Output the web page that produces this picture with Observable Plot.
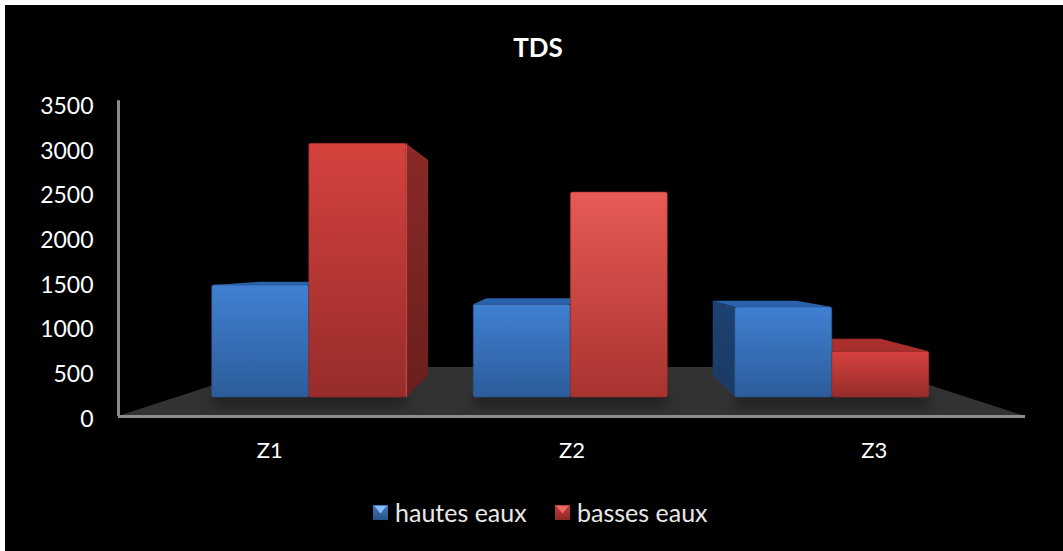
<!DOCTYPE html>
<html><head><meta charset="utf-8">
<script src="https://cdn.jsdelivr.net/npm/d3@7"></script>
<script src="https://cdn.jsdelivr.net/npm/@observablehq/plot@0.6"></script>
<style>
html,body{margin:0;padding:0;background:#fff;}
#card{position:absolute;left:5px;top:5px;width:1058px;height:546px;background:#000;overflow:hidden;}
#chart{position:absolute;left:-5px;top:-5px;}
#title{position:absolute;left:0;top:26px;width:1066px;text-align:center;color:#fff;font:700 26px Lato,sans-serif;}
#legend{position:absolute;left:368px;top:492px;color:#e8e8e8;font:25px Lato,sans-serif;white-space:nowrap;}
#legend span{position:absolute;top:0;display:flex;align-items:center;}
#legend i{position:relative;display:inline-block;width:15px;height:15px;margin-right:7px;}
#legend i::before{content:"";position:absolute;left:1px;top:1px;width:13px;height:8px;clip-path:polygon(0 0,100% 0,50% 100%);}
#legend .b i{background:linear-gradient(#3f78c0,#2a5288);}
#legend .b i::before{background:#86bdf2;}
#legend .r i{background:linear-gradient(#c83c38,#8a2826);}
#legend .r i::before{background:#ea6a64;}
</style></head><body>
<div id="card"><div id="chart"></div><div id="title">TDS</div>
<div id="legend"><span class="b" style="left:0"><i></i>hautes eaux</span><span class="r" style="left:182px"><i></i>basses eaux</span></div></div>
<script>
const zones = ["Z1","Z2","Z3"];
const hautesEaux = [1465,1250,1220];
const bassesEaux = [3050,2505,725];
const yTicks = [0,500,1000,1500,2000,2500,3000,3500];
const floorFront = 212, floorBack = 548, barFootBack = 458;
const vanishX = 1.5, barCentre = 1.496, vanishY = 1720, shrinkX = 0.865, shrinkY = 0.86, barWidth = 0.321;

const backX = x => vanishX + (x - vanishX) * shrinkX;
const backY = y => vanishY + (y - vanishY) * shrinkY;
const bars = [];
zones.forEach((z,i)=>{
  const c = barCentre + (i - 1) * shrinkX;
  bars.push({z,i,s:"h",x1:c-barWidth,x2:c,v:hautesEaux[i]});
  bars.push({z,i,s:"b",x1:c,x2:c+barWidth,v:bassesEaux[i]});
});
const faces = [];
const addFace = (id,fill,pts)=>pts.forEach(p=>faces.push({id,fill,x:p[0],y1:p[1],y2:p[2]}));
bars.forEach((b,k)=>{
  const top = b.s==="h" ? "#2a62ac" : "#a82f2b";
  if (b.x2 < vanishX - .2 && b.s==="b") addFace("s"+k,"url(#sideR)",[[b.x2,floorFront,b.v],[backX(b.x2),barFootBack,backY(b.v)]]);
  if (b.x1 > vanishX + .2 && b.s==="h") addFace("s"+k,"url(#sideB)",[[backX(b.x1),barFootBack,backY(b.v)],[b.x1,floorFront,b.v]]);
  if (b.v < vanishY) {
    const bl = backX(b.x1), br = backX(b.x2), yb = backY(b.v);
    const xs = bl < b.x1 ? [[bl,yb,yb],[b.x1,b.v,yb]] : [[b.x1,b.v,b.v],[bl,b.v,yb]];
    const xe = br < b.x2 ? [[br,b.v,yb],[b.x2,b.v,b.v]] : [[b.x2,b.v,yb],[br,yb,yb]];
    addFace("t"+k,top,[...xs,...xe]);
  }
});
const defs = () => {
  const s = d3.create("svg:defs");
  const grad = (id,a,b)=>{
    const g = s.append("linearGradient").attr("id",id).attr("x1",0).attr("y1",0).attr("x2",0).attr("y2",1);
    g.append("stop").attr("offset",0).attr("stop-color",a);
    g.append("stop").attr("offset",1).attr("stop-color",b);
  };
  grad("blue","#4080d2","#2c5c9a");
  grad("red","#d6423e","#962c2a");
  grad("redBright","#e85a55","#a8332f");
  grad("sideB","#1d4272","#1a3a63");
  grad("sideR","#8a2a27","#6a1f1d");
  return s.node();
};
const floorData = [
  {x:0,y1:0,y2:0},{x:0.5,y1:0,y2:floorBack},{x:2.5,y1:0,y2:floorBack},{x:3,y1:0,y2:0}
];
const fillOf = b => b.s==="h" ? "url(#blue)" : (b.i===1 ? "url(#redBright)" : "url(#red)");
const plot = Plot.plot({
  width:1063,height:551,marginTop:103,marginBottom:135,marginLeft:118,marginRight:38,
  style:{background:"transparent",color:"#fff",fontFamily:"Lato,sans-serif"},
  x:{domain:[0,3],axis:null},
  y:{domain:[0,3500],axis:null},
  marks:[
    defs,
    Plot.area(floorData,{x1:"x",y1:"y1",y2:"y2",fill:"#323232"}),
    Plot.rect(bars,{x1:"x1",x2:"x2",y1:floorFront-90,y2:floorFront+20,fill:"#000",fillOpacity:0.45,imageFilter:"blur(6px)"}),
    Plot.area(faces,{x1:"x",y1:"y1",y2:"y2",z:"id",fill:"fill"}),
    Plot.rect(bars,{x1:"x1",x2:"x2",y1:floorFront,y2:"v",fill:fillOf,r:2,stroke:d=>d.s==="h"?"#2a5286":"#8e2a27",strokeWidth:0.6}),
    Plot.ruleX(bars.filter(b=>b.s==="b"&&b.i===0),{x:"x2",y1:floorFront,y2:"v",stroke:"#d84e4a",strokeWidth:1.5,strokeOpacity:0.8}),
    Plot.ruleY([0],{x1:0,x2:3,stroke:"#8c8c8c",strokeWidth:3}),
    Plot.ruleX([0],{y1:0,y2:3530,stroke:"#8c8c8c",strokeWidth:3}),
    Plot.text(yTicks,{x:0,y:d=>d,text:d=>String(d),textAnchor:"end",dx:-25,dy:3,fill:"#fff",fontSize:23}),
    Plot.text(zones,{x:(d,i)=>i+0.5,y:0,text:d=>d,dy:34,fill:"#fff",fontSize:22})
  ]
});
document.getElementById("chart").appendChild(plot);
</script></body></html>
